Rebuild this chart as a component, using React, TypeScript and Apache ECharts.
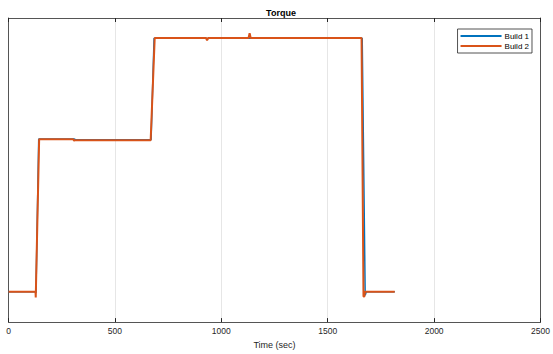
import React, { useEffect, useRef } from "react";
import * as echarts from "echarts";

// Time axis ticks
const xTicks = [0, 500, 1000, 1500, 2000, 2500];

// Build 1 (blue)
const b1Time = [0, 127, 129, 142, 310, 315, 670, 684, 930, 934, 938, 1662, 1676, 1679, 1682, 1815];
const b1Val = [10.0, 10.0, 9.6, 60.2, 60.2, 60.0, 60.0, 93.3, 93.3, 93.0, 93.3, 93.3, 8.8, 9.5, 10.0, 10.0];

// Build 2 (orange)
const b2Time = [0, 127, 128, 130, 144, 305, 308, 311, 668, 687, 928, 933, 938, 1128, 1133, 1138, 1659, 1668, 1672, 1675, 1815];
const b2Val = [10.0, 10.0, 8.1, 8.1, 60.1, 60.1, 59.6, 59.8, 59.8, 93.4, 93.4, 92.7, 93.4, 93.4, 95.0, 93.4, 93.4, 8.4, 8.4, 10.0, 10.0];

const seriesNames = ["Build 1", "Build 2"];
const colors = ["#0072BD", "#D95319"];

export default function App() {
  const ref = useRef<HTMLDivElement>(null);
  useEffect(() => {
    document.body.style.margin = "0";
    const chart = echarts.init(ref.current!, null, { renderer: "svg" });
    const font = "Liberation Sans, Arial, sans-serif";
    const axisColor = "#555555";
    chart.setOption({
      animation: false,
      backgroundColor: "#ffffff",
      title: {
        text: "Torque",
        left: 276,
        textAlign: "center",
        top: 3,
        textStyle: { fontSize: 9, fontWeight: "bold", color: "#000", fontFamily: font },
      },
      legend: {
        orient: "vertical",
        right: 21,
        top: 29,
        data: seriesNames,
        icon: "rect",
        itemWidth: 41,
        itemHeight: 2,
        itemGap: 0,
        padding: [2, 3, 2, 3],
        borderColor: "#262626",
        borderWidth: 0.8,
        backgroundColor: "#fff",
        textStyle: { fontSize: 8, color: "#000", fontFamily: font, lineHeight: 10, padding: [0, 0, 0, -2] },
      },
      grid: { left: 8.5, right: 8, top: 18, bottom: 27, containLabel: false },
      xAxis: [
        {
          type: "value",
          min: xTicks[0],
          max: xTicks[xTicks.length - 1],
          interval: 500,
          name: "Time (sec)",
          nameLocation: "middle",
          nameGap: 17,
          nameTextStyle: { fontSize: 9, color: "#262626", fontFamily: font },
          axisLine: { show: true, onZero: false, lineStyle: { color: axisColor, width: 1 } },
          axisTick: { show: true, inside: true, length: 4, lineStyle: { color: "#262626" } },
          axisLabel: { fontSize: 8.5, color: "#262626", fontFamily: font, margin: 4, formatter: (v: number) => String(v) },
          splitLine: { show: true, lineStyle: { color: "#e6e6e6", width: 1 } },
        },
        {
          type: "value",
          position: "top",
          min: xTicks[0],
          max: xTicks[xTicks.length - 1],
          interval: 500,
          axisLine: { show: true, onZero: false, lineStyle: { color: axisColor, width: 1 } },
          axisTick: { show: true, inside: true, length: 4, lineStyle: { color: "#262626" } },
          axisLabel: { show: false },
          splitLine: { show: false },
        },
      ],
      yAxis: [
        {
          type: "value",
          min: 0,
          max: 100,
          axisLine: { show: true, onZero: false, lineStyle: { color: axisColor, width: 1 } },
          axisTick: { show: false },
          axisLabel: { show: false },
          splitLine: { show: false },
        },
        {
          type: "value",
          position: "right",
          min: 0,
          max: 100,
          axisLine: { show: true, onZero: false, lineStyle: { color: axisColor, width: 1 } },
          axisTick: { show: false },
          axisLabel: { show: false },
          splitLine: { show: false },
        },
      ],
      series: [
        {
          name: seriesNames[0],
          type: "line",
          showSymbol: false,
          data: b1Time.map((t, i) => [t, b1Val[i]]),
          lineStyle: { color: colors[0], width: 1.5 },
          itemStyle: { color: colors[0] },
        },
        {
          name: seriesNames[1],
          type: "line",
          showSymbol: false,
          data: b2Time.map((t, i) => [t, b2Val[i]]),
          lineStyle: { color: colors[1], width: 2 },
          itemStyle: { color: colors[1] },
        },
      ],
    });
    return () => chart.dispose();
  }, []);
  return <div ref={ref} style={{ width: 553, height: 354, position: "absolute", left: 0, top: 0 }} />;
}
